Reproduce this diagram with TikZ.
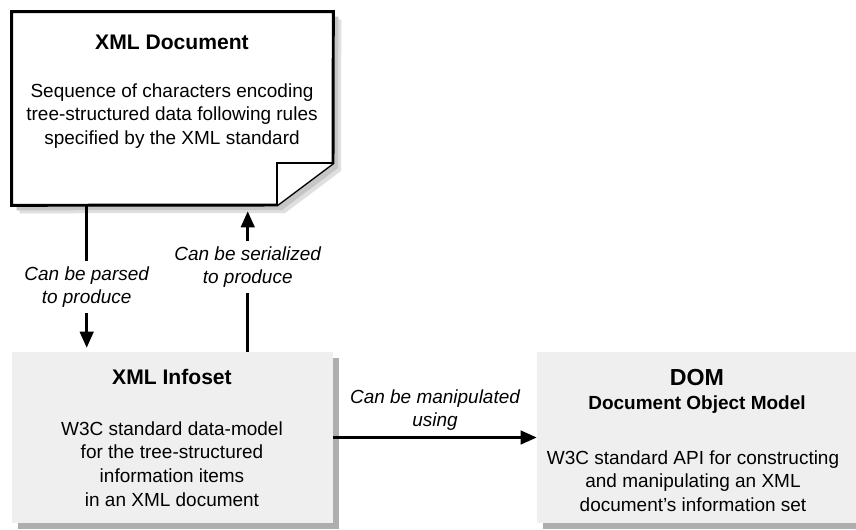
\documentclass[tikz,border=0pt]{standalone}
\usepackage{fontspec}
\setmainfont{Liberation Sans}
\usetikzlibrary{positioning, arrows.meta, calc, shadows}
\definecolor{boxCol}{HTML}{EFEFEF}
\definecolor{shadeCol}{HTML}{9A9A9A}

\begin{document}
\begin{tikzpicture}[
    x=0.025cm, y=-0.025cm,
    % Node styles
    docshape/.style={
        rectangle,
        minimum width=8.025cm,
        minimum height=4.825cm,
        inner sep=0pt
    },
    greybox/.style={
        rectangle,
        fill=boxCol,
        minimum width=8.025cm,
        minimum height=4.275cm,
        inner sep=0pt,
        drop shadow={shadow xshift=0.15cm, shadow yshift=-0.15cm, fill=shadeCol, opacity=0.8}
    },
    titletext/.style={
        font=\fontsize{15}{17}\selectfont\bfseries,
        align=center
    },
    bodytext/.style={
        font=\fontsize{13.5}{16.8}\selectfont,
        align=center
    },
    edgelabel/.style={
        font=\fontsize{13.5}{16.5}\selectfont\itshape,
        align=center,
        inner sep=4pt
    },
    arrow/.style={
        -{Triangle[length=0.4cm, width=0.34cm]},
        line width=1.8pt
    },
    docline/.style={
        line width=2.1pt,
        line join=miter
    }
]

    \fill[white] (0,0) rectangle (856,529);
    \useasboundingbox (0,0) rectangle (856,529);

    % ==== XML DOCUMENT ====
    \node[docshape] (doc) at (172.5, 108.5) {};
    \coordinate (foldA) at (277, 205);
    \coordinate (foldB) at (333, 163);
    \coordinate (foldC) at (277, 163);

    % shadow behind the page
    \fill[gray!25] ($(doc.north west)+(8,8)$) -- ($(doc.north east)+(8,8)$) -- ($(foldB)+(8,8)$) -- ($(foldA)+(8,8)$) -- ($(doc.south west)+(8,8)$) -- cycle;
    \fill[gray!45] ($(doc.north west)+(5,5)$) -- ($(doc.north east)+(5,5)$) -- ($(foldB)+(5,5)$) -- ($(foldA)+(5,5)$) -- ($(doc.south west)+(5,5)$) -- cycle;

    \draw[docline, fill=white] (doc.north west) -- (doc.north east) -- (foldB) -- (foldA) -- (doc.south west) -- cycle;
    \draw[docline, fill=white] (foldA) -- (foldC) -- (foldB);

    \node[titletext] (doctitle) at (172, 42) {XML Document};
    \node[bodytext] (docbody) at (172, 116) {Sequence of characters encoding\\tree-structured data following rules\\specified by the XML standard};

    % ==== XML INFOSET ====
    \node[greybox] (infoset) at (172.5, 437.5) {};
    \node[titletext] (infotitle) at (172, 377) {XML Infoset};
    \node[bodytext] (infobody) at (172, 464) {W3C standard data-model\\for the tree-structured\\information items\\in an XML document};

    % ==== DOM ====
    \node[greybox] (dom) at (697.5, 437.5) {};
    \node[titletext] (domtitle) at (697, 391) {{\fontsize{16.5}{18}\selectfont DOM}\\{\fontsize{13.5}{16}\selectfont Document Object Model}};
    \node[bodytext] (dombody) at (693, 481) {W3C standard API for constructing\\and manipulating an XML\\document's information set};

    % ==== CONNECTIONS ====
    \draw[arrow, shorten >=0.1cm] ([xshift=1.875cm]doc.south west) -- node[edgelabel, fill=white, pos=0.56] (parselbl) {Can be parsed\\to produce} ([xshift=1.875cm]infoset.north west);
    \draw[arrow, shorten >=0.15cm] ([xshift=5.9cm]infoset.north west) -- node[edgelabel, fill=white, pos=0.58] (seriallbl) {Can be serialized\\to produce} ([xshift=5.9cm]doc.south west);
    \draw[arrow] (infoset.east) -- node[edgelabel, above] (manlbl) {Can be manipulated\\using} (dom.west);

\end{tikzpicture}
\end{document}
